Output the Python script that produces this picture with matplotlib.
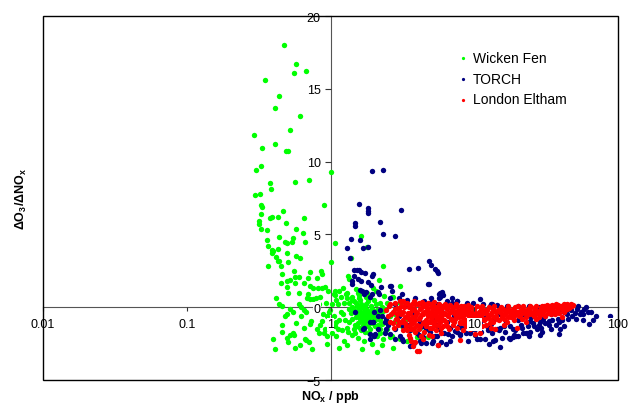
import numpy as np
import matplotlib
matplotlib.use("Agg")
import matplotlib.pyplot as plt
from matplotlib.patches import Rectangle

plt.rcParams.update({
    "font.family": ["Liberation Sans", "DejaVu Sans"],
    "mathtext.fontset": "custom",
    "mathtext.rm": "Liberation Sans",
    "mathtext.bf": "Liberation Sans:bold",
    "mathtext.it": "Liberation Sans:italic",
})

# Wicken Fen: NOx (ppb) and dO3/dNOx
wicken_nox = [
    0.477, 0.575, 0.555, 0.676, 0.348, 0.436, 0.411, 0.616, 0.523, 0.295,
    0.409, 0.335, 0.488, 0.508, 0.328, 0.305, 1.0, 0.708, 0.566, 0.377,
    0.387, 0.325, 0.297, 0.90, 0.327, 0.334, 0.47, 0.33, 0.39, 0.377,
    0.433, 0.316, 0.32, 0.49, 0.65, 0.33, 0.36, 0.578, 0.64, 0.55,
    0.537, 0.36, 0.44, 0.48, 0.496, 0.665, 1.08, 0.365, 0.39, 0.40,
    0.39, 0.43, 0.50, 0.58, 0.61, 0.42, 0.43, 0.44, 0.506, 1.0,
    0.37, 0.455, 0.56, 0.717, 0.855, 0.873, 0.457, 0.57, 0.60, 0.694,
    0.80, 0.525, 0.496, 0.45, 0.566, 0.654, 0.72, 0.87, 0.91, 0.50,
    0.76, 0.82, 0.60, 0.51, 0.683, 0.72, 0.75, 0.79, 0.415, 0.44,
    0.46, 0.60, 0.62, 0.835, 0.525, 0.657, 0.68, 0.50, 0.485, 0.99,
    0.97, 0.457, 0.72, 0.73, 0.845, 0.87, 0.46, 0.52, 0.545, 0.56,
    0.496, 0.835, 0.897, 0.94, 0.95, 0.506, 0.67, 0.71, 0.61, 0.57,
    0.74, 0.41, 0.675,
    0.85, 0.93, 0.95, 0.88, 0.78, 0.92, 0.80, 0.65, 0.58, 0.62,
    0.40, 0.55, 0.70, 0.96,
    1.62, 1.80, 1.38, 2.32, 1.32, 1.35, 2.17, 3.05, 1.05, 1.07,
    1.15, 1.23, 1.30, 1.50, 1.56, 1.59, 1.71, 1.80, 1.99, 2.07,
    2.69, 2.74, 2.46, 2.39, 2.59, 2.81, 2.27, 2.46, 2.66, 2.33,
    3.05, 2.33, 2.81, 3.13, 2.21, 2.10, 2.59, 3.05, 2.10, 2.74,
    1.10, 1.12, 1.18, 1.05, 1.15, 1.08, 1.20, 1.10, 1.25, 1.02,
    1.30, 1.35, 1.40, 1.45, 1.50, 1.55, 1.60, 1.65, 1.70, 1.75,
    1.80, 1.85, 1.90, 1.62, 1.55, 1.68, 1.75, 1.50, 1.58, 1.66,
    1.72, 1.78, 1.92, 2.0, 2.1, 1.95, 2.05, 2.2, 1.42, 1.35,
    1.30, 1.45, 1.62, 1.40, 1.55, 1.70, 1.85, 1.95, 1.30, 1.15,
    1.65, 2.3, 2.4, 1.28, 1.42, 1.60, 1.85, 2.2, 2.35, 1.10,
    1.22, 1.38, 1.48, 1.60, 1.58, 1.64, 1.70, 1.76, 1.82, 2.0,
    3.3, 3.6, 3.4, 4.2, 5.3, 4.66, 3.98, 4.79,
    1.35, 1.45, 1.5, 1.52, 1.57, 1.6, 1.63, 1.67, 1.69, 1.73,
    1.77, 1.81, 1.83, 1.87, 1.9, 1.94, 1.97, 2.03, 2.08, 2.12,
    2.15, 2.25, 2.3, 2.45, 1.25, 1.27, 1.33, 1.4, 1.48, 1.53,
    1.58, 1.73, 1.78, 1.88, 2.0, 2.2, 1.18, 1.13, 1.03, 1.07,
]
wicken_ratio = [
    18.0, 16.7, 16.1, 16.2, 15.6, 14.5, 13.7, 13.1, 12.2, 11.8,
    11.2, 10.9, 10.7, 10.7, 9.7, 9.4, 9.3, 8.75, 8.6, 8.5,
    8.1, 7.8, 7.7, 7.0, 7.0, 6.85, 6.6, 6.4, 6.2, 6.1,
    6.2, 5.9, 5.7, 5.8, 6.1, 5.4, 5.3, 5.4, 5.1, 4.75,
    4.5, 4.6, 4.8, 4.5, 4.4, 4.45, 4.4, 4.2, 3.9, 3.85,
    3.7, 4.0, 3.7, 3.5, 3.4, 3.45, 3.2, 3.15, 3.1, 3.1,
    2.85, 2.85, 2.5, 2.4, 2.5, 2.25, 2.3, 2.05, 2.1, 2.0,
    2.0, 1.9, 1.8, 1.65, 1.65, 1.65, 1.45, 1.35, 1.4, 1.4,
    1.3, 1.33, 0.96, 0.96, 0.6, 0.55, 0.55, 0.6, 0.6, 0.2,
    0.07, 0.2, 0.02, 0.2, -0.14, -0.16, -0.32, -0.48, -0.62, -0.2,
    -0.36, -1.2, -1.17, -0.94, -1.2, -0.96, -1.7, -1.9, -1.75, -1.93,
    -2.13, -1.8, -1.8, -2.0, -2.55, -2.4, -2.2, -2.4, -2.6, -2.8,
    -2.9, -2.9, -2.27,
    0.7, 0.3, -0.6, -0.5, -0.1, -1.5, -1.5, -1.4, -1.1, -0.6,
    -2.2, -0.3, 0.9, 1.1,
    4.9, 4.15, 3.37, 2.85, 2.13, 1.93, 1.86, 1.47, 0.94, 0.85,
    1.12, 1.29, 0.96, 1.24, 1.0, 0.83, 1.03, 0.96, 1.35, 1.12,
    0.69, 0.67, 0.32, -0.14, -0.6, -0.94, -1.17, -1.51, -1.97, -2.2,
    0.32, -0.25, -0.48, -1.29, -1.51, -1.97, -2.08, -2.2, -3.1, -2.77,
    0.5, 0.2, -0.3, -0.6, -0.9, -1.3, -1.6, -2.0, -2.3, 0.2,
    0.6, 0.3, 0.0, -0.2, -0.4, -0.6, -0.3, -0.5, -0.7, -0.4,
    -0.2, -0.6, -0.8, -0.9, -1.1, -1.2, -1.0, 0.3, 0.1, 0.0,
    -0.1, 0.2, 0.1, -0.3, -0.5, -1.1, -1.3, -0.9, -0.8, -1.0,
    -1.4, -1.5, -1.6, -1.9, -2.1, -2.3, -1.8, -2.5, -2.6, -2.8,
    -2.9, -2.6, -1.7, 0.9, 0.7, 0.5, 0.6, 0.3, 0.8, -1.0,
    -0.5, -0.4, -1.2, -1.4, -0.1, -0.7, -0.5, -0.8, -1.3, 0.5,
    -0.9, -1.6, -2.3, -1.4, 0.2, -0.25, -2.08, -2.08,
    -0.1, 0.4, -0.7, 0.1, -0.3, -0.8, 0.2, -0.4, -1.0, 0.0,
    -0.6, -0.3, 0.4, -1.0, -0.4, -0.1, -0.7, -0.9, 0.2, -0.2,
    -1.2, -0.5, 0.0, -0.9, 0.3, -0.9, -1.7, 0.5, -1.8, -1.3,
    0.6, -1.7, 0.7, -1.5, -2.0, -1.8, 0.7, -1.5, -1.8, 1.1,
]

# TORCH
torch_nox = [
    1.95, 2.32, 1.58, 1.83, 1.81, 1.81, 3.10, 2.22, 1.48, 1.47,
    2.32, 2.80, 1.38, 1.61, 1.31, 1.69, 1.81, 4.82, 4.99, 4.04,
    3.52, 5.31, 5.48, 5.59, 1.46, 1.52, 1.59, 1.62, 1.99, 1.95,
    1.74, 1.45, 1.41, 1.40, 1.55, 1.63, 1.83, 1.90, 2.23, 2.63,
    4.82, 1.60, 1.66, 1.72, 2.15, 2.19, 1.93, 3.01, 5.66, 6.10,
    5.78, 5.97, 5.66, 6.98, 7.62, 8.96, 13.2, 4.45, 1.36, 2.59,
    2.68, 3.15, 6.0, 5.8, 1.76, 1.88, 4.94, 5.62, 13.0,
    4.79, 5.94, 6.43, 7.54, 8.87, 10.9, 12.9,
    88.1, 67.4, 63.2, 39.5, 39.1, 29.5, 28.8, 19.0, 17.5, 19.5,
    22.9, 13.9, 15.0, 10.2, 10.5, 39.5, 42.3, 31.0, 14.3, 13.0,
    39.1, 28.1, 29.1, 24.4, 23.2, 20.1, 18.7, 17.6, 11.8, 12.6,
    10.06, 6.82, 6.4, 5.62, 5.2, 4.63, 4.29, 3.82, 3.58, 3.15,
    3.05, 2.59, 2.43, 2.0, 1.88, 2.0, 2.14, 2.43, 1.88, 1.71,
    1.48, 1.69, 1.88, 1.99, 2.15, 2.27, 2.39, 24.5, 28.6, 32.9,
    38.5, 43.2, 21.4, 22.0, 15.0, 16.0,
    1.99, 2.04, 2.39, 2.81, 3.21, 4.19, 4.42, 5.05, 5.48, 6.6,
    7.36, 7.97, 9.34, 10.9, 13.6,
    3.3, 3.8, 4.2, 4.6, 5.1, 5.5, 6.0, 6.5, 7.2, 7.8,
    8.5, 9.2, 10.0, 11.0, 12.0, 13.5, 15.0, 16.5, 18.0, 20.0,
    22.0, 25.0, 27.0, 30.0, 34.0, 36.0, 44.0, 47.0, 50.0, 52.0,
    55.0, 58.0, 45.0, 33.0, 26.0, 18.5, 12.5, 8.0, 4.0, 3.5,
    3.0, 2.8, 3.4, 4.3, 9.8, 11.5, 14.5, 17.0, 20.0, 24.0,
    28.0, 35.0, 40.0, 46.0, 53.0, 60.0, 57.0, 62.0,
    3.2, 3.6, 4.1, 4.4, 4.9, 5.3, 5.7, 6.2, 6.8, 7.0,
    7.6, 8.2, 8.8, 9.5, 10.3, 11.2, 12.2, 13.2, 14.8, 16.3,
    17.8, 19.3, 21.0, 23.5, 25.5, 27.5, 31.0, 35.0, 37.0, 41.0,
    48.0, 51.0, 54.0, 57.0, 42.0, 34.0, 24.0, 15.5, 9.0, 5.9,
    2.8, 2.5, 2.2, 2.6, 3.9, 5.0, 7.0, 65.0, 70.0,
]
torch_ratio = [
    9.38, 9.44, 7.06, 6.8, 6.6, 6.45, 6.7, 5.85, 5.75, 5.55,
    5.0, 4.9, 4.7, 4.6, 4.06, 4.04, 4.13, 3.18, 2.87, 2.68,
    2.59, 2.63, 2.48, 2.36, 2.57, 2.57, 2.54, 2.43, 2.27, 2.13,
    2.32, 2.15, 1.81, 1.6, 1.93, 1.77, 1.7, 1.53, 1.38, 1.44,
    1.6, 1.19, 1.08, 0.9, 1.05, 0.9, 0.9, 0.6, 0.92, 0.87,
    0.96, 0.94, 0.6, 0.32, 0.41, 0.2, 0.19, 0.43, 3.37, 1.47,
    1.12, 0.89, 0.89, 0.67, 1.01, 0.67, 0.32, 0.2, 0.2,
    1.58, 1.01, 0.43, 0.43, 0.32, 0.55, 0.09,
    -0.6, -0.85, -1.17, -1.51, -1.83, -1.7, -1.9, -1.9, -2.13, -2.0,
    -1.74, -2.22, -2.7, -1.93, -2.15, -0.14, -0.32, -0.6, -1.51, -1.17,
    -1.0, -1.22, -1.44, -1.7, -1.8, -2.0, -2.08, -2.15, -2.2, -2.55,
    -1.5, -2.32, -2.55, -2.6, -2.3, -2.48, -2.43, -2.43, -2.66, -2.2,
    -1.97, -1.86, -1.51, -1.97, -1.86, -0.36, -0.6, -0.83, -1.05, -1.4,
    -0.36, -1.5, -2.2, -1.05, -1.5, -0.6, -1.05, -0.94, -1.05, -0.94,
    -0.78, -0.25, -1.46, -1.74, -1.44, -1.29,
    -1.05, -1.86, -1.74, -1.51, -2.32, -2.32, -2.08, -2.43, -1.97, -1.86,
    -1.63, -1.86, -1.74, -2.2, -2.32,
    0.1, -0.4, -1.0, -1.5, -0.8, -1.2, -0.3, -1.0, -0.6, -1.3,
    -0.9, -1.2, -0.4, -1.0, -0.7, -0.9, -0.5, -1.0, -0.6, -0.9,
    -0.5, -0.7, -0.4, -0.8, -0.5, -0.3, -0.5, -0.2, -0.4, -0.15,
    -0.3, -0.1, -0.8, -1.2, -1.3, -1.5, -1.6, -1.9, -1.8, -1.2,
    -0.6, 0.2, 0.5, 0.3, 0.3, 0.25, 0.15, 0.1, 0.05, 0.1,
    0.0, 0.05, 0.0, 0.1, 0.05, 0.0, -0.5, -0.3,
    -1.3, -1.6, -1.9, -1.3, -1.7, -2.0, -1.5, -1.8, -1.4, -2.0,
    -1.7, -1.4, -1.8, -1.6, -1.4, -1.7, -1.3, -1.8, -1.6, -1.7,
    -1.3, -1.6, -1.2, -1.3, -1.1, -1.5, -1.1, -0.9, -1.2, -0.9,
    -0.6, -0.8, -0.5, -0.9, -1.3, -1.5, -2.0, -2.1, -2.3, -2.4,
    -2.2, -1.2, -0.2, 0.6, 0.6, 0.6, 0.6, -0.3, -0.6,
]

# London Eltham
eltham_nox = [
    2.45, 2.5, 2.55, 2.6, 2.7, 2.75, 2.8, 2.85, 2.9, 2.95, 2.89,
    3.05, 3.1, 3.15, 3.18, 3.2, 3.25, 3.3, 3.35, 3.4, 3.45,
    3.5, 3.55, 3.6, 3.65, 3.7, 3.75, 3.77, 3.8, 3.85, 3.9,
    3.95, 3.98, 4.0, 3.62,
    4.05, 4.1, 4.13, 4.15, 4.2, 4.25, 4.3, 4.35, 4.4, 4.45,
    4.5, 4.55, 4.6, 4.65, 4.7, 4.75, 4.8, 4.85, 4.9, 4.95,
    5.0, 5.05, 5.1, 5.15, 5.2, 5.25, 5.3, 5.4, 5.45, 5.5,
    5.55, 5.62, 5.6, 5.7, 5.75, 5.8, 5.85, 5.9, 5.95,
    6.0, 6.1, 6.2, 6.3, 6.4, 6.5, 6.6, 6.7, 6.8, 6.9,
    7.0, 7.1, 7.2, 7.3, 7.4, 7.5, 7.6, 7.7, 7.8, 7.9, 7.95,
    8.1, 8.2, 8.3, 8.4, 8.5, 8.6, 8.7, 8.8, 8.9, 9.0,
    9.1, 9.2, 9.3, 9.4, 9.5, 9.6, 9.7, 9.8, 9.9,
    10.1, 10.2, 10.4, 10.6, 10.8, 11.0, 11.2, 11.4, 11.6, 11.8,
    12.0, 12.3, 12.6, 12.9, 13.2, 13.5, 13.8, 14.0, 14.2, 14.6, 14.9,
    15.3, 15.7, 16.0, 16.4, 16.8, 17.2, 17.6, 18.0, 18.5, 19.0,
    19.7, 19.5, 20.0, 20.5, 21.0, 21.5, 22.0, 22.5, 23.0, 23.5,
    24.0, 24.5,
    25.5, 26.0, 27.0, 27.5, 28.0, 29.0, 30.0, 31.0, 32.0, 33.0,
    34.0, 35.0, 36.0, 37.0, 38.0, 39.0, 40.0, 40.6, 41.5, 42.5,
    43.5, 44.5, 45.5, 46.5, 47.5, 48.5, 38.0, 36.5, 33.5, 30.5,
    25.0, 28.5, 31.5, 35.5, 42.0, 44.0,
    2.6, 2.65, 2.7, 2.8, 2.9, 3.0, 3.0, 3.1, 3.2, 3.2,
    3.3, 3.3, 3.4, 3.4, 3.5, 3.5, 3.6, 3.6, 3.7, 3.7,
    3.8, 3.8, 3.9, 3.9, 3.55, 3.85,
    4.0, 4.1, 4.2, 4.2, 4.3, 4.4, 4.5, 4.5, 4.6, 4.7,
    4.8, 4.8, 4.9, 5.0, 5.0, 5.1, 5.2, 5.3, 5.3, 5.4,
    5.5, 5.6, 5.7, 5.8, 5.9, 5.9, 4.4, 5.1,
    6.1, 6.2, 6.3, 6.5, 6.6, 6.7, 6.9, 7.0, 7.2, 7.3,
    7.5, 7.6, 7.8, 7.9, 8.0, 8.2, 8.4, 8.6, 8.8, 9.0,
    9.1, 9.3, 9.5, 9.7, 9.9, 8.3, 9.4,
    10.0, 10.3, 10.5, 10.9, 11.1, 11.5, 11.9, 12.2, 12.5, 12.8,
    13.1, 13.4, 13.7, 14.1, 14.5, 15.0, 15.5, 15.9, 16.3, 16.7,
    17.1, 17.5, 18.2, 18.8, 19.3, 19.8, 11.3, 13.0, 16.0,
    20.3, 21.2, 22.3, 23.2, 24.2, 25.2, 26.5, 27.8, 29.5, 30.8,
    32.5, 34.5, 36.2, 37.5, 39.5, 41.0, 43.0, 45.0, 46.0, 47.0,
    26.8, 22.8, 29.8, 34.8, 41.8,
]
eltham_ratio = [
    -0.2, -0.6, 0.1, -1.0, -0.3, -1.4, 0.3, -0.8, -0.05, -1.2, -0.83,
    0.4, -0.5, -1.0, 0.46, -1.6, 0.0, -0.7, -1.3, 0.3, -0.4,
    -1.9, -0.9, 0.1, -1.5, -0.2, -1.1, -2.66, 0.45, -0.6, -1.7,
    -0.3, -3.0, -1.2, -2.3,
    0.2, -0.8, -3.0, -1.5, -0.1, -2.0, -0.5, 0.35, -1.1, -0.3,
    -1.7, 0.1, -0.9, -1.3, -0.2, -0.6, 0.3, -1.9, -1.0, -0.4,
    0.2, -1.4, -0.7, -0.1, -1.1, 0.35, -0.5, -1.6, -0.9, 0.0,
    -0.3, -2.6, -1.2, 0.25, -0.6, -1.0, -1.8, -0.2, 0.1,
    -0.8, -1.3, -0.4, 0.2, -1.0, -0.1, -0.6, -1.5, 0.15, -0.3,
    -0.9, -1.2, 0.0, -0.5, -0.8, 0.2, -1.4, -0.2, -0.7, -2.25, -1.0,
    0.1, -0.4, -1.1, -0.6, 0.05, -0.9, -1.3, -0.2, -0.5, 0.15,
    -0.8, -1.1, -0.3, -0.6, 0.0, -1.0, -1.4, -0.4, -0.1,
    -1.86, -0.7, 0.05, -1.0, -0.3, -1.74, -0.6, 0.1, -0.9, -0.2,
    -1.2, -0.5, 0.0, -0.8, -0.3, -1.0, 0.05, -1.5, -0.6, -0.2, -0.9,
    0.0, -0.5, -0.8, -0.2, -1.0, 0.05, -0.4, -0.7, -0.1, -0.9,
    -1.4, -0.3, 0.1, -0.6, -0.2, -0.8, 0.05, -0.4, -0.7, -0.1,
    -0.5, 0.1,
    -0.3, -0.6, 0.1, -0.4, -0.7, 0.0, -0.3, -0.6, 0.15, -0.2,
    -0.5, 0.05, -0.3, 0.2, -0.1, -0.4, 0.1, -0.7, -0.2, 0.15,
    -0.1, 0.2, -0.05, 0.15, 0.1, 0.12, 0.15, 0.05, 0.1, 0.05,
    0.0, -0.2, -0.1, -0.4, -0.35, -0.1,
    0.2, -0.5, -1.1, -0.1, -0.5, -0.2, -1.0, 0.1, -0.3, -0.9,
    0.3, -1.1, -0.6, -1.6, 0.0, -0.8, -0.4, -1.2, 0.25, -0.7,
    -1.4, -0.1, -0.9, 0.2, -2.1, -2.4,
    -0.4, 0.3, -0.7, -1.3, 0.0, -0.5, -1.0, 0.2, -0.3, -1.1,
    -0.5, -0.05, -1.4, -0.3, -0.9, 0.1, -0.5, -1.2, 0.0, -0.3,
    -0.7, -0.1, -0.9, -0.3, -1.4, -0.6, -2.2, -2.0,
    0.0, -0.9, -0.5, -1.3, 0.1, -0.4, -0.8, -0.1, -1.0, -0.3,
    -0.6, 0.05, -0.4, -1.1, -0.6, -0.1, -0.9, -0.4, -1.0, -0.5,
    -0.1, -0.9, -0.4, -0.7, -1.1, -1.6, -1.5,
    -0.3, -0.9, -0.5, -0.7, -0.1, -0.4, -0.8, -0.2, -0.6, -1.1,
    -0.5, -0.1, -0.7, -0.3, -0.8, -0.3, -0.7, -0.1, -0.5, -0.3,
    -0.7, -0.2, -0.4, -0.6, 0.0, -0.5, -1.3, -1.4, -1.2,
    -0.3, -0.5, -0.2, -0.5, -0.2, -0.5, -0.1, -0.3, -0.5, -0.2,
    -0.4, -0.1, -0.5, -0.2, 0.0, 0.05, -0.2, 0.1, 0.0, 0.2,
    -0.8, -1.0, 0.1, 0.15, 0.2,
]

x_ticks = [0.01, 0.1, 1, 10, 100]
x_tick_labels = ["0.01", "0.1", "1", "10", "100"]
y_ticks = [-5, 0, 5, 10, 15, 20]

fig = plt.figure(figsize=(6.3, 4.1), dpi=100)
ax = fig.add_axes([43 / 630, 1 - 381 / 410, 575 / 630, 364 / 410])

ms = 15
ax.scatter(wicken_nox, wicken_ratio, s=ms, c="#00FF00", linewidths=0,
           zorder=3, label="Wicken Fen")
ax.scatter(torch_nox, torch_ratio, s=ms, c="#000080", linewidths=0,
           zorder=3, label="TORCH")
ax.scatter(eltham_nox, eltham_ratio, s=ms, c="#FF0000", linewidths=0,
           zorder=3, label="London Eltham")

ax.set_xscale("log")
ax.set_xlim(0.01, 100)
ax.set_ylim(-5, 20)

# axes cross at x=1, y=0 (Excel style)
ax.spines["left"].set_position(("data", 1))
ax.spines["bottom"].set_position(("data", 0))
for side in ("left", "bottom"):
    ax.spines[side].set_color("#555555")
    ax.spines[side].set_zorder(2)
for side in ("top", "right"):
    ax.spines[side].set_visible(False)
ax.add_patch(Rectangle((0, 0), 1, 1, transform=ax.transAxes, fill=False,
                       ec="black", lw=1.0, zorder=5, clip_on=False))

ax.set_xticks(x_ticks)
ax.set_xticklabels(x_tick_labels)
ax.xaxis.set_minor_locator(matplotlib.ticker.NullLocator())
ax.set_yticks(y_ticks)
ax.tick_params(axis="x", direction="out", length=3, width=0.8, pad=5,
               labelsize=9, colors="#333333", labelcolor="black")
ax.tick_params(axis="y", direction="out", length=4, width=0.8, pad=3,
               labelsize=9, colors="#333333", labelcolor="black")
ax.xaxis.set_zorder(4)
ax.yaxis.set_zorder(4)
for lab in ax.get_xticklabels() + ax.get_yticklabels():
    lab.set_bbox(dict(facecolor="white", edgecolor="none", pad=0.3))

fig.text(330 / 630, 1 - 397 / 410, r"$\mathbf{NO_x}$ / ppb", ha="center",
         va="center", fontsize=9, fontweight="bold")
fig.text(21 / 630, 1 - 199 / 410, r"$\mathbf{\Delta O_3/\Delta NO_x}$",
         ha="center", va="center", rotation=90, fontsize=9, fontweight="bold")

ax.legend(loc="upper left", bbox_to_anchor=(452 / 630, 1 - 46 / 410),
          bbox_transform=fig.transFigure, frameon=False, fontsize=10,
          handlelength=0.8, handletextpad=0.3, markerscale=0.6,
          borderaxespad=0, labelspacing=0.5)

fig.savefig("out.png", dpi=100)
